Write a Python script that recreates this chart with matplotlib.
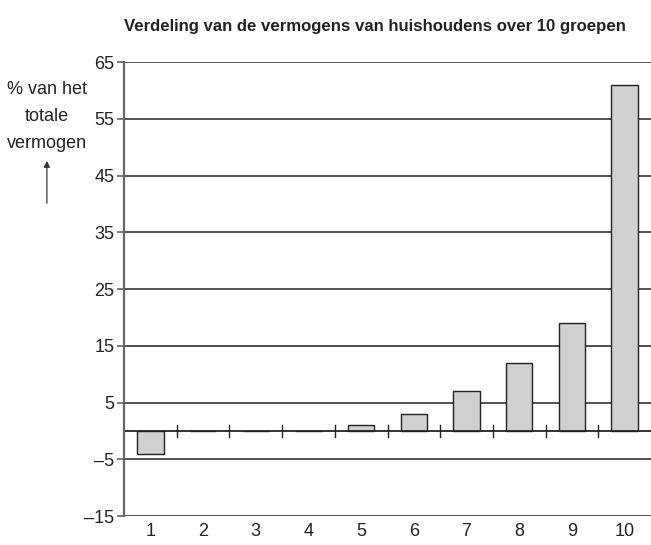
import matplotlib
matplotlib.use("Agg")
import matplotlib.pyplot as plt
from matplotlib import font_manager

# Data
groups = [1, 2, 3, 4, 5, 6, 7, 8, 9, 10]
share = [-4, 0, 0, 0, 1, 3, 7, 12, 19, 61]
y_ticks = [-15, -5, 5, 15, 25, 35, 45, 55, 65]
title = "Verdeling van de vermogens van huishoudens over 10 groepen"
ylabel = "% van het\ntotale\nvermogen"

# pick a narrow Arial-like font if available
names = {f.name for f in font_manager.fontManager.ttflist}
fam = "Liberation Sans Narrow" if "Liberation Sans Narrow" in names else "Liberation Sans"
plt.rcParams["font.family"] = [fam, "DejaVu Sans"]

fig = plt.figure(figsize=(6.51, 5.45), dpi=100)
ax = fig.add_axes([0.1905, 0.0532, 0.8095, 0.833])

ax.bar(groups, share, width=0.5, color="#d0d0d0", edgecolor="#222222",
       linewidth=1.0, zorder=3)

ax.set_xlim(0.5, 10.5)
ax.set_ylim(-15, 65)
ax.set_yticks(y_ticks)
ax.set_yticklabels([str(v).replace("-", "\u2013") for v in y_ticks])
ax.set_xticks(groups)
ax.set_xticklabels([str(g) for g in groups])

# horizontal gridlines and zero line
for v in y_ticks:
    ax.axhline(v, color="#222222", linewidth=1.1, zorder=1)
ax.axhline(0, color="#222222", linewidth=1.3, zorder=4)
# small marks on the zero line between groups
for b in range(1, 10):
    ax.plot([b + 0.5, b + 0.5], [-1.1, 1.1], color="#222222",
            linewidth=1.0, zorder=4)

for s in ["top", "right", "bottom"]:
    ax.spines[s].set_visible(False)
ax.spines["left"].set_color("#666666")
ax.spines["left"].set_linewidth(1.6)
ax.spines["left"].set_zorder(5)

ax.tick_params(axis="y", length=5, width=1.2, color="#666666",
               labelsize=13, pad=2, labelcolor="#222222")
ax.tick_params(axis="x", length=0, labelsize=13, pad=5, labelcolor="#222222")

fig.text(0.576, 0.952, title, ha="center", va="center", fontsize=12.1,
         fontweight="bold", color="#222222")
fig.text(0.072, 0.786, ylabel, ha="center", va="center", fontsize=13,
         color="#222222", linespacing=1.75)
fig.add_artist(matplotlib.patches.FancyArrowPatch(
    (0.072, 0.622), (0.072, 0.71), transform=fig.transFigure,
    arrowstyle="-|>", mutation_scale=9, color="#333333", linewidth=0.9))

fig.savefig("out.png", dpi=100)
